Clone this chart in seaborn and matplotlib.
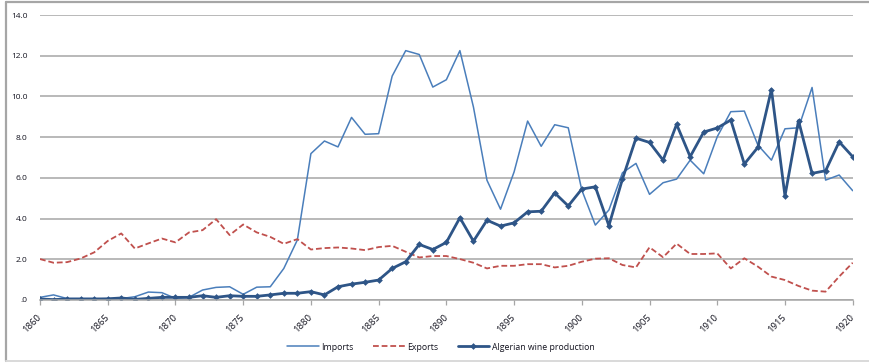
import matplotlib
matplotlib.use("Agg")
import matplotlib.pyplot as plt
from matplotlib.lines import Line2D
from matplotlib.ticker import FixedLocator, FuncFormatter
import seaborn as sns
import pandas as pd

# ---- data -----------------------------------------------------------------
years = list(range(1860, 1921))

imports = [
    0.13, 0.25, 0.07, 0.07, 0.07, 0.05, 0.07, 0.16, 0.39, 0.36,
    0.08, 0.13, 0.49, 0.62, 0.65, 0.28, 0.63, 0.65, 1.55, 2.95,
    7.19, 7.81, 7.52, 8.97, 8.14, 8.17, 11.00, 12.25, 12.06, 10.46,
    10.82, 12.25, 9.48, 5.88, 4.46, 6.29, 8.79, 7.55, 8.61, 8.46,
    5.40, 3.68, 4.42, 6.25, 6.71, 5.19, 5.76, 5.94, 6.87, 6.20,
    8.02, 9.25, 9.28, 7.61, 6.87, 8.41, 8.46, 10.44, 5.89, 6.14,
    5.37,
]

exports = [
    2.01, 1.83, 1.86, 2.04, 2.34, 2.90, 3.27, 2.53, 2.78, 3.02,
    2.83, 3.32, 3.43, 3.97, 3.19, 3.71, 3.32, 3.10, 2.76, 2.99,
    2.48, 2.55, 2.58, 2.53, 2.45, 2.60, 2.66, 2.37, 2.09, 2.16,
    2.16, 2.01, 1.83, 1.55, 1.68, 1.68, 1.76, 1.76, 1.60, 1.68,
    1.88, 2.03, 2.05, 1.72, 1.60, 2.59, 2.10, 2.77, 2.26, 2.26,
    2.29, 1.55, 2.05, 1.64, 1.15, 0.98, 0.69, 0.46, 0.41, 1.15,
    1.83,
]

production = [
    0.05, 0.02, 0.05, 0.05, 0.05, 0.06, 0.10, 0.03, 0.08, 0.13,
    0.13, 0.13, 0.21, 0.13, 0.21, 0.18, 0.18, 0.25, 0.33, 0.33,
    0.41, 0.25, 0.65, 0.78, 0.87, 0.98, 1.55, 1.88, 2.73, 2.48,
    2.83, 4.04, 2.89, 3.92, 3.63, 3.79, 4.33, 4.36, 5.26, 4.62,
    5.45, 5.56, 3.65, 5.94, 7.95, 7.74, 6.87, 8.63, 7.04, 8.25,
    8.45, 8.84, 6.68, 7.50, 10.34, 5.11, 8.81, 6.22, 6.35, 7.77,
    7.04,
]

series_names = ["Imports", "Exports", "Algerian wine production"]
x_ticks = list(range(1860, 1921, 5))
y_ticks = [0, 2, 4, 6, 8, 10, 12, 14]

df = pd.DataFrame({
    "year": years * 3,
    "value": imports + exports + production,
    "series": ([series_names[0]] * len(years) + [series_names[1]] * len(years)
               + [series_names[2]] * len(years)),
})

# ---- style ----------------------------------------------------------------
sns.set_theme(style="white")
plt.rcParams["font.family"] = ["Open Sans", "DejaVu Sans"]

C_IMP = "#4a7ebb"
C_EXP = "#c0504d"
C_PROD = "#2e5587"
GRID = "#a6a6a6"
TXT = "#141420"

fig = plt.figure(figsize=(8.70, 3.63), dpi=100)
ax = fig.add_axes([40 / 870, 63 / 363, (852.7 - 40) / 870, (300 - 15) / 363])

sns.lineplot(data=df[df.series == series_names[0]], x="year", y="value",
             color=C_IMP, linewidth=1.1, ax=ax, label=series_names[0])
sns.lineplot(data=df[df.series == series_names[1]], x="year", y="value",
             color=C_EXP, linewidth=1.3, ax=ax, label=series_names[1])
ax.lines[-1].set_dashes([3.2, 1.6])
sns.lineplot(data=df[df.series == series_names[2]], x="year", y="value",
             color=C_PROD, linewidth=2.0, marker="D", markersize=3.4,
             markeredgewidth=0, ax=ax, label=series_names[2])

ax.set_xlim(1860, 1920)
ax.set_ylim(0, 14)
ax.set_xlabel("")
ax.set_ylabel("")

# horizontal gridlines
ax.yaxis.set_major_locator(FixedLocator(y_ticks))
ax.yaxis.set_major_formatter(FuncFormatter(
    lambda v, _: ".0" if v == 0 else f"{v:.1f}"))
ax.grid(axis="y", color=GRID, linewidth=1.1)
ax.grid(axis="x", visible=False)
ax.set_axisbelow(True)

for side in ("left", "right", "top"):
    ax.spines[side].set_visible(False)
ax.spines["bottom"].set_color(GRID)
ax.spines["bottom"].set_linewidth(1.1)

ax.set_xticks(x_ticks)
ax.set_xticklabels([str(t) for t in x_ticks], rotation=45, ha="right",
                   va="center", rotation_mode="anchor")
ax.tick_params(axis="x", length=3.5, width=0.9, color=GRID, pad=8,
               labelsize=6.8, labelcolor=TXT, direction="out", bottom=True)
ax.tick_params(axis="y", length=0, pad=9, labelsize=6.0, labelcolor=TXT)

leg = ax.legend(loc="center", bbox_to_anchor=(441 / 870, 16 / 363),
                bbox_transform=fig.transFigure, ncol=3, frameon=False,
                fontsize=6.3, handlelength=3.6, handletextpad=0.3,
                columnspacing=2.2, borderaxespad=0)
for t in leg.get_texts():
    t.set_color(TXT)

# outer frame around the chart area
frame_kw = dict(color="#a6a6a6", linewidth=1.6, transform=fig.transFigure)
fig.add_artist(Line2D([6.5 / 870, 6.5 / 870], [2 / 363, 361 / 363], **frame_kw))
fig.add_artist(Line2D([6.5 / 870, 1.0], [361 / 363, 361 / 363], **frame_kw))
fig.add_artist(Line2D([6.5 / 870, 1.0], [2 / 363, 2 / 363],
                      color="#d9d9d9", linewidth=1.4,
                      transform=fig.transFigure))

fig.savefig("out.png", dpi=100)
